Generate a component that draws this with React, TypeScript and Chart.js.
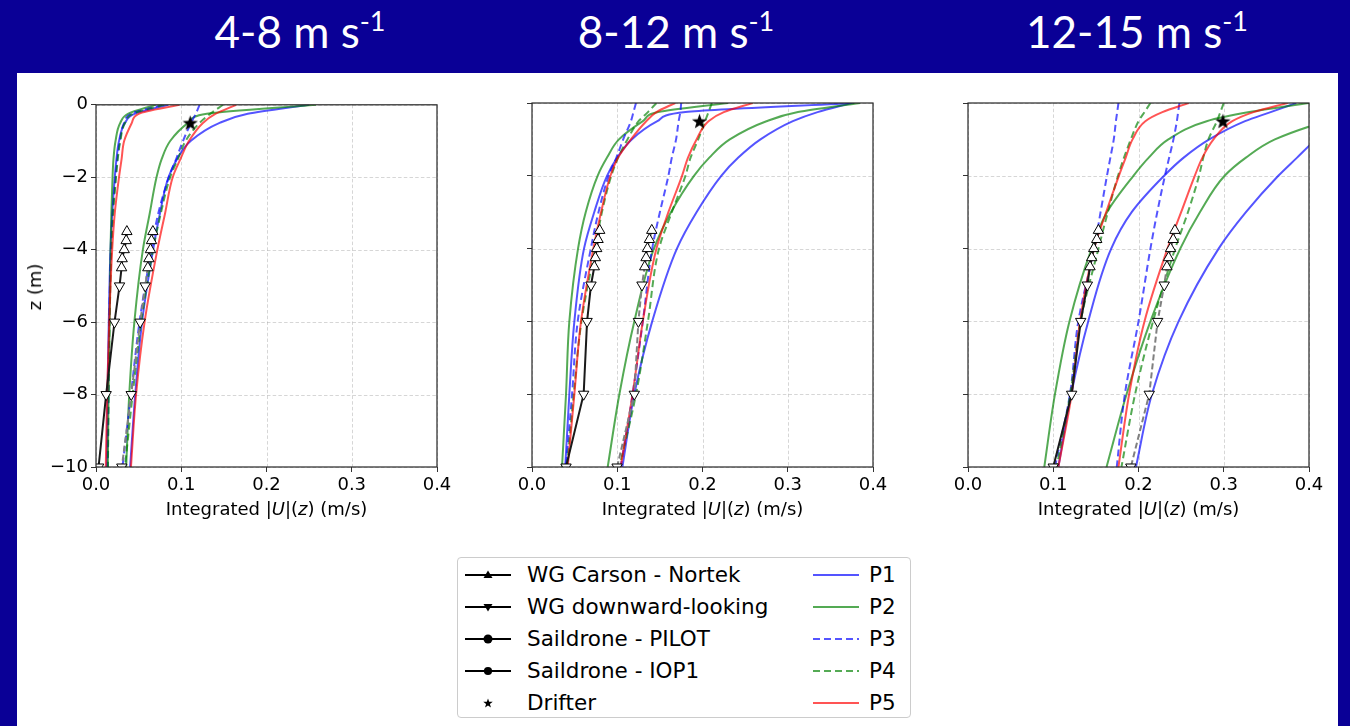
import React, { useEffect, useRef } from "react";
import { Chart, registerables } from "chart.js";

Chart.register(...registerables);

// ---------- shared levels / ticks ----------
const Z_LEVELS = [0, -0.25, -0.5, -1, -1.5, -2, -3, -4, -6, -8, -10];
const WG_UP_Z = [-3.5, -3.75, -4, -4.25, -4.5];
const WG_DOWN_Z = [-5, -6, -8, -10];
const DRIFTER_Z = -0.5;
const X_TICKS = [0, 0.1, 0.2, 0.3, 0.4];
const Y_TICKS = [0, -2, -4, -6, -8, -10];
const PANEL_TITLES = ["4-8", "8-12", "12-15"];

// ---------- panel 1 : 4-8 m/s ----------
const p1_P1_A = [0.085, 0.045, 0.034, 0.027, 0.024, 0.022, 0.019, 0.017, 0.015, 0.0135, 0.0125];
const p1_P2_A = [0.07, 0.0374, 0.0284, 0.0229, 0.0205, 0.0194, 0.018, 0.017, 0.016, 0.0147, 0.0139];
const p1_P3_A = [0.078, 0.041, 0.033, 0.028, 0.025, 0.023, 0.0195, 0.0175, 0.0155, 0.0145, 0.0135];
const p1_P4_A = [0.08, 0.043, 0.034, 0.0285, 0.0255, 0.0235, 0.02, 0.018, 0.016, 0.0148, 0.014];
const p1_P5_A = [0.098, 0.05, 0.042, 0.033, 0.03, 0.027, 0.022, 0.019, 0.0155, 0.013, 0.0115];
const p1_P1_B = [0.25, 0.178, 0.145, 0.111, 0.095, 0.085, 0.075, 0.067, 0.054, 0.046, 0.04];
const p1_P2_B = [0.258, 0.13, 0.108, 0.087, 0.077, 0.071, 0.063, 0.055, 0.045, 0.039, 0.0354];
const p1_P3_B = [0.1215, 0.117, 0.1115, 0.102, 0.094, 0.0855, 0.073, 0.065, 0.051, 0.041, 0.031];
const p1_P4_B = [0.149, 0.134, 0.1215, 0.105, 0.096, 0.087, 0.076, 0.067, 0.053, 0.043, 0.034];
const p1_P5_B = [0.1645, 0.14, 0.1254, 0.109, 0.099, 0.09, 0.081, 0.072, 0.057, 0.047, 0.041];
const p1_up_A = [0.0362, 0.0354, 0.0331, 0.0307, 0.03];
const p1_down_A = [0.0276, 0.0217, 0.0119, 0.003];
const p1_up_B = [0.0667, 0.0651, 0.0639, 0.062, 0.0608];
const p1_down_B = [0.0577, 0.0518, 0.0413, 0.0303];
const p1_drifter = 0.1105;

// ---------- panel 2 : 8-12 m/s ----------
const p2_P1_A = [0.378, 0.18, 0.147, 0.117, 0.1, 0.088, 0.073, 0.061, 0.0497, 0.0438, 0.039];
const p2_P2_A = [0.23, 0.148, 0.13, 0.102, 0.088, 0.077, 0.063, 0.054, 0.0438, 0.0399, 0.0352];
const p2_P3_A = [0.122, 0.119, 0.116, 0.107, 0.099, 0.09, 0.078, 0.069, 0.0536, 0.047, 0.0399];
const p2_P4_A = [0.146, 0.136, 0.125, 0.112, 0.101, 0.093, 0.082, 0.074, 0.058, 0.049, 0.041];
const p2_P5_A = [0.168, 0.146, 0.134, 0.116, 0.101, 0.092, 0.081, 0.072, 0.0575, 0.0497, 0.0419];
const p2_P1_B = [0.375, 0.335, 0.306, 0.268, 0.242, 0.222, 0.193, 0.17, 0.141, 0.12, 0.106];
const p2_P2_B = [0.385, 0.312, 0.275, 0.232, 0.208, 0.19, 0.163, 0.143, 0.12, 0.1025, 0.0888];
const p2_P3_B = [0.175, 0.174, 0.172, 0.169, 0.164, 0.16, 0.15, 0.141, 0.13, 0.118, 0.104];
const p2_P4_B = [0.211, 0.207, 0.203, 0.195, 0.186, 0.18, 0.164, 0.149, 0.136, 0.122, 0.1025];
const p2_P5_B = [0.259, 0.225, 0.207, 0.193, 0.183, 0.176, 0.16, 0.146, 0.13, 0.118, 0.104];
const p2_up_A = [0.0794, 0.0775, 0.0759, 0.0743, 0.0731];
const p2_down_A = [0.0692, 0.0646, 0.0606, 0.0399];
const p2_up_B = [0.1405, 0.1377, 0.1354, 0.1338, 0.1322];
const p2_down_B = [0.129, 0.1248, 0.12, 0.0998];
const p2_drifter = 0.1965;

// ---------- panel 3 : 12-15 m/s ----------
const p3_P1_A = [0.385, 0.355, 0.325, 0.283, 0.253, 0.23, 0.192, 0.168, 0.141, 0.121, 0.106];
const p3_P2_A = [0.4, 0.33, 0.28, 0.235, 0.212, 0.194, 0.163, 0.145, 0.119, 0.102, 0.0895];
const p3_P3_A = [0.1765, 0.175, 0.1735, 0.171, 0.167, 0.163, 0.1555, 0.148, 0.1294, 0.1196, 0.102];
const p3_P4_A = [0.214, 0.207, 0.2, 0.191, 0.183, 0.176, 0.164, 0.153, 0.132, 0.12, 0.104];
const p3_P5_A = [0.259, 0.228, 0.208, 0.193, 0.185, 0.177, 0.162, 0.148, 0.1314, 0.1216, 0.106];
const p3_P1_B = [0.455, 0.443, 0.432, 0.408, 0.386, 0.364, 0.326, 0.294, 0.247, 0.2157, 0.197];
const p3_P2_B = [0.52, 0.46, 0.42, 0.36, 0.326, 0.301, 0.272, 0.249, 0.214, 0.186, 0.1625];
const p3_P3_B = [0.248, 0.2465, 0.245, 0.241, 0.236, 0.231, 0.222, 0.214, 0.2, 0.184, 0.1745];
const p3_P4_B = [0.3, 0.296, 0.292, 0.282, 0.276, 0.271, 0.258, 0.243, 0.217, 0.196, 0.18];
const p3_P5_B = [0.375, 0.335, 0.31, 0.288, 0.275, 0.266, 0.25, 0.234, 0.207, 0.189, 0.1765];
const p3_up_A = [0.153, 0.151, 0.1475, 0.1451, 0.1431];
const p3_down_A = [0.14, 0.1322, 0.1216, 0.1];
const p3_up_B = [0.2427, 0.2407, 0.2376, 0.2353, 0.2333];
const p3_down_B = [0.2302, 0.2224, 0.2126, 0.191];
const p3_drifter = 0.299;

// ---------- legend ----------
const OBS_LABELS = ["WG Carson - Nortek", "WG downward-looking", "Saildrone - PILOT", "Saildrone - IOP1", "Drifter"];
const MODEL_LABELS = ["P1", "P2", "P3", "P4", "P5"];

const BLUE = "rgba(0,0,255,0.67)";
const GREEN = "rgba(0,128,0,0.67)";
const RED = "rgba(255,0,0,0.67)";
const MODEL_COLORS = [BLUE, GREEN, BLUE, GREEN, RED];
const MODEL_DASHES: number[][] = [[], [], [7, 4], [7, 4], []];

type PanelData = {
  models: number[][][];
  upA: number[];
  downA: number[];
  upB: number[];
  downB: number[];
  drifter: number;
  areaLeft: number;
  showY: boolean;
};

const PANELS: PanelData[] = [
  {
    models: [[p1_P1_A, p1_P1_B], [p1_P2_A, p1_P2_B], [p1_P3_A, p1_P3_B], [p1_P4_A, p1_P4_B], [p1_P5_A, p1_P5_B]],
    upA: p1_up_A, downA: p1_down_A, upB: p1_up_B, downB: p1_down_B, drifter: p1_drifter,
    areaLeft: 96, showY: true,
  },
  {
    models: [[p2_P1_A, p2_P1_B], [p2_P2_A, p2_P2_B], [p2_P3_A, p2_P3_B], [p2_P4_A, p2_P4_B], [p2_P5_A, p2_P5_B]],
    upA: p2_up_A, downA: p2_down_A, upB: p2_up_B, downB: p2_down_B, drifter: p2_drifter,
    areaLeft: 532, showY: false,
  },
  {
    models: [[p3_P1_A, p3_P1_B], [p3_P2_A, p3_P2_B], [p3_P3_A, p3_P3_B], [p3_P4_A, p3_P4_B], [p3_P5_A, p3_P5_B]],
    upA: p3_up_A, downA: p3_down_A, upB: p3_up_B, downB: p3_down_B, drifter: p3_drifter,
    areaLeft: 968, showY: false,
  },
];

const AREA_W = 341;
const AREA_H = 364;
const AREA_TOP = 103;
const PAD_TOP = 12;
const PAD_RIGHT = 20;
const Y_AXIS_W = 80;
const X_AXIS_H = 60;
const TITLE_CENTERS = [300, 676, 1137];

function makeStar(size: number, outer: number, inner: number): HTMLCanvasElement {
  const c = document.createElement("canvas");
  c.width = size;
  c.height = size;
  const ctx = c.getContext("2d")!;
  ctx.beginPath();
  for (let i = 0; i < 10; i++) {
    const r = i % 2 === 0 ? outer : inner;
    const a = -Math.PI / 2 + (i * Math.PI) / 5;
    const px = size / 2 + r * Math.cos(a);
    const py = size / 2 + 0.6 + r * Math.sin(a);
    if (i === 0) ctx.moveTo(px, py);
    else ctx.lineTo(px, py);
  }
  ctx.closePath();
  ctx.fillStyle = "#000";
  ctx.fill();
  return c;
}

const gridFramePlugin = {
  id: "gridFrame",
  beforeDatasetsDraw(chart: any) {
    const { ctx, chartArea: a, scales } = chart;
    ctx.save();
    ctx.strokeStyle = "rgba(160,160,160,0.55)";
    ctx.lineWidth = 0.8;
    ctx.setLineDash([3.5, 2.2]);
    for (const v of X_TICKS) {
      const px = Math.round(scales.x.getPixelForValue(v)) + 0.5;
      ctx.beginPath();
      ctx.moveTo(px, a.top);
      ctx.lineTo(px, a.bottom);
      ctx.stroke();
    }
    for (const v of Y_TICKS) {
      const py = Math.round(scales.y.getPixelForValue(v)) + 0.5;
      ctx.beginPath();
      ctx.moveTo(a.left, py);
      ctx.lineTo(a.right, py);
      ctx.stroke();
    }
    ctx.restore();
  },
  afterDatasetsDraw(chart: any) {
    const { ctx, chartArea: a } = chart;
    ctx.save();
    ctx.strokeStyle = "#262626";
    ctx.lineWidth = 1.2;
    ctx.setLineDash([]);
    ctx.strokeRect(a.left, a.top, a.right - a.left, a.bottom - a.top);
    ctx.restore();
  },
};

function Panel({ p }: { p: PanelData }) {
  const ref = useRef<HTMLCanvasElement>(null);
  useEffect(() => {
    if (!ref.current) return;
    const star = makeStar(17, 8, 3.3);
    const obsZ = [...WG_UP_Z, ...WG_DOWN_Z];
    const rot = [...WG_UP_Z.map(() => 0), ...WG_DOWN_Z.map(() => 180)];
    const obs = (xs: number[], color: string, dash: number[]) => ({
      data: xs.map((x, k) => ({ x, y: obsZ[k] })),
      borderColor: color,
      borderWidth: 2,
      borderDash: dash,
      tension: 0,
      pointStyle: "triangle",
      pointRotation: rot,
      pointRadius: 6,
      pointBackgroundColor: "#ffffff",
      pointBorderColor: "#000000",
      pointBorderWidth: 1,
    });
    const datasets: any[] = [];
    datasets.push({
      data: [{ x: p.drifter, y: DRIFTER_Z }],
      showLine: false,
      pointStyle: star,
      pointRadius: 8,
      borderColor: "#000",
      backgroundColor: "#000",
    });
    datasets.push(obs([...p.upA, ...p.downA], "#1a1a1a", []));
    datasets.push(obs([...p.upB, ...p.downB], "#808080", [6, 3]));
    for (let m = 4; m >= 0; m--) {
      for (const g of [0, 1]) {
        datasets.push({
          data: p.models[m][g].map((x, k) => ({ x, y: Z_LEVELS[k] })),
          borderColor: MODEL_COLORS[m],
          borderWidth: 2,
          borderDash: MODEL_DASHES[m],
          pointRadius: 0,
          cubicInterpolationMode: "monotone",
          fill: false,
        });
      }
    }
    const font = { family: "'DejaVu Sans'", size: 18 };
    const gridOpts = {
      drawOnChartArea: false,
      drawTicks: true,
      tickLength: 5,
      tickColor: "#333",
      tickWidth: 1,
    };
    const chart = new Chart(ref.current, {
      type: "line",
      data: { datasets },
      plugins: [gridFramePlugin],
      options: {
        indexAxis: "y",
        animation: false,
        responsive: false,
        devicePixelRatio: 1,
        events: [],
        layout: { padding: { top: PAD_TOP, right: PAD_RIGHT, left: 0, bottom: 0 } },
        plugins: { legend: { display: false }, tooltip: { enabled: false } },
        scales: {
          x: {
            type: "linear",
            position: "bottom",
            min: 0,
            max: 0.4,
            afterFit: (s: any) => {
              s.height = X_AXIS_H;
            },
            ticks: {
              stepSize: 0.1,
              autoSkip: false,
              maxRotation: 0,
              font,
              color: "#000",
              padding: 3,
              callback: (v: any) => Number(v).toFixed(1),
            },
            grid: gridOpts,
            border: { display: false },
          },
          y: {
            type: "linear",
            position: "left",
            min: -10,
            max: 0,
            afterFit: (s: any) => {
              s.width = Y_AXIS_W;
            },
            ticks: {
              display: p.showY,
              stepSize: 2,
              font,
              color: "#000",
              padding: 3,
              callback: (v: any) => (Number(v) === 0 ? "0" : "\u2212" + Math.abs(Number(v))),
            },
            grid: gridOpts,
            border: { display: false },
          },
        },
      } as any,
    });
    return () => chart.destroy();
  }, [p]);
  const w = Y_AXIS_W + AREA_W + PAD_RIGHT;
  const h = PAD_TOP + AREA_H + X_AXIS_H;
  return (
    <canvas
      ref={ref}
      width={w}
      height={h}
      style={{ position: "absolute", left: p.areaLeft - Y_AXIS_W, top: AREA_TOP - PAD_TOP, width: w, height: h }}
    />
  );
}

function LegendMarker({ kind }: { kind: number }) {
  const cx = 23;
  const cy = 10;
  return (
    <svg width={46} height={20} style={{ position: "absolute", left: 0, top: -10 }}>
      {kind < 4 && <line x1={0} y1={cy} x2={46} y2={cy} stroke="#000" strokeWidth={2} />}
      {kind === 0 && <polygon points={`${cx},${cy - 4.5} ${cx + 4.5},${cy + 3} ${cx - 4.5},${cy + 3}`} fill="#000" />}
      {kind === 1 && <polygon points={`${cx},${cy + 4.5} ${cx + 4.5},${cy - 3} ${cx - 4.5},${cy - 3}`} fill="#000" />}
      {kind === 2 && <circle cx={cx} cy={cy} r={4.5} fill="#000" />}
      {kind === 3 && <circle cx={cx} cy={cy} r={4.1} fill="#000" />}
      {kind === 4 && (
        <polygon
          points={Array.from({ length: 10 }, (_, i) => {
            const r = i % 2 === 0 ? 5 : 2;
            const a = -Math.PI / 2 + (i * Math.PI) / 5;
            return `${cx + r * Math.cos(a)},${cy + 0.4 + r * Math.sin(a)}`;
          }).join(" ")}
          fill="#000"
        />
      )}
    </svg>
  );
}

function Legend() {
  const rowY = [17, 49, 81, 113, 145];
  const textStyle: React.CSSProperties = {
    position: "absolute",
    fontFamily: "'DejaVu Sans'",
    fontSize: 21.5,
    lineHeight: "30px",
    whiteSpace: "nowrap",
    color: "#000",
  };
  return (
    <div
      style={{
        position: "absolute",
        left: 457,
        top: 557,
        width: 452,
        height: 159,
        border: "1px solid #cccccc",
        borderRadius: 4,
        background: "#fff",
      }}
    >
      {OBS_LABELS.map((t, i) => (
        <React.Fragment key={t}>
          <div style={{ position: "absolute", left: 7, top: rowY[i] }}>
            <LegendMarker kind={i} />
          </div>
          <div style={{ ...textStyle, left: 69, top: rowY[i] - 15 }}>{t}</div>
        </React.Fragment>
      ))}
      {MODEL_LABELS.map((t, i) => (
        <React.Fragment key={t}>
          <svg width={46} height={20} style={{ position: "absolute", left: 355, top: rowY[i] - 10 }}>
            <line
              x1={0}
              y1={10}
              x2={46}
              y2={10}
              stroke={MODEL_COLORS[i]}
              strokeWidth={2}
              strokeDasharray={MODEL_DASHES[i].length ? MODEL_DASHES[i].join(",") : undefined}
            />
          </svg>
          <div style={{ ...textStyle, left: 411, top: rowY[i] - 15 }}>{t}</div>
        </React.Fragment>
      ))}
    </div>
  );
}

export default function App() {
  return (
    <div style={{ position: "absolute", left: 0, top: 0, width: 1350, height: 726, background: "#0a0096", overflow: "hidden" }}>
      {PANEL_TITLES.map((t, i) => (
        <div
          key={t}
          style={{
            position: "absolute",
            left: TITLE_CENTERS[i] - 200,
            width: 400,
            top: 6,
            textAlign: "center",
            color: "#fff",
            fontFamily: "Lato, 'Open Sans', sans-serif",
            fontSize: 44,
            lineHeight: "50px",
            whiteSpace: "nowrap",
          }}
        >
          {t} m s<span style={{ fontSize: 27, position: "relative", top: -17 }}>-1</span>
        </div>
      ))}
      <div style={{ position: "absolute", left: 17, top: 73, width: 1321, height: 653, background: "#fff" }} />
      {PANELS.map((p, i) => (
        <Panel key={i} p={p} />
      ))}
      {PANELS.map((p, i) => (
        <div
          key={"xl" + i}
          style={{
            position: "absolute",
            left: p.areaLeft + AREA_W / 2 - 150,
            width: 300,
            top: 498,
            textAlign: "center",
            fontFamily: "'DejaVu Sans'",
            fontSize: 18,
            lineHeight: "22px",
            color: "#000",
            whiteSpace: "nowrap",
          }}
        >
          Integrated |<i>U</i>|(<i>z</i>) (m/s)
        </div>
      ))}
      <div
        style={{
          position: "absolute",
          left: 34.5,
          top: 287,
          transform: "translate(-50%, -50%) rotate(-90deg)",
          fontFamily: "'DejaVu Sans'",
          fontSize: 18,
          lineHeight: "22px",
          color: "#000",
          whiteSpace: "nowrap",
        }}
      >
        z (m)
      </div>
      <Legend />
    </div>
  );
}
